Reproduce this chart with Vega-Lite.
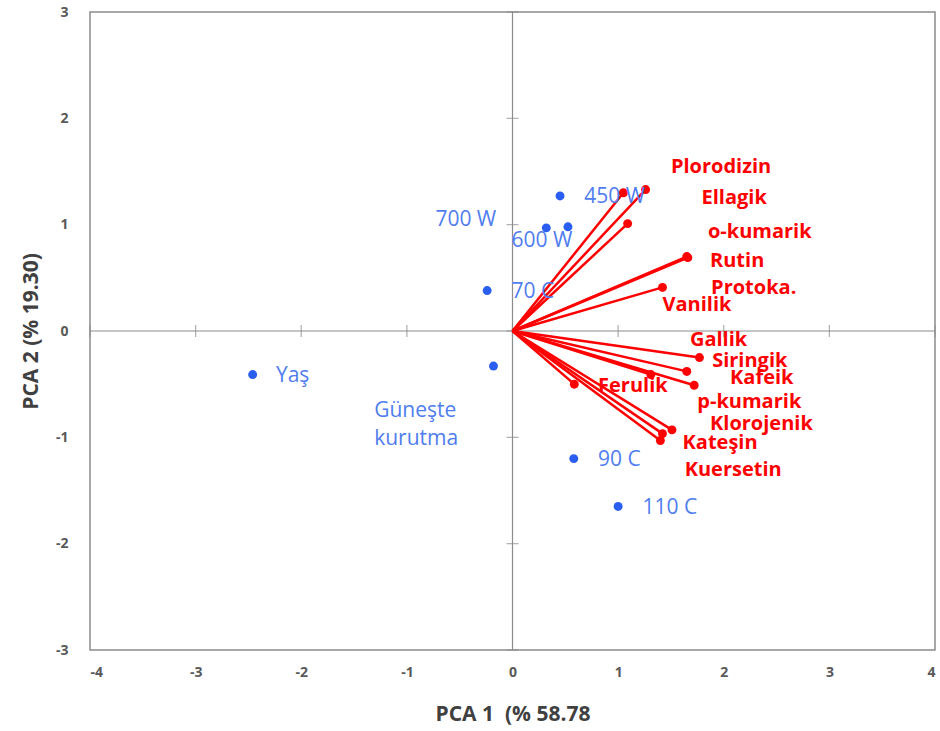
{
  "$schema": "https://vega.github.io/schema/vega-lite/v6.json",
  "width": 845,
  "height": 638,
  "autosize": {"type": "none"},
  "padding": {"left": 90, "top": 12, "right": 5, "bottom": 81},
  "background": "white",
  "config": {
    "view": {"stroke": "#8c8c8c", "strokeWidth": 1.5},
    "font": "Open Sans",
    "axis": {"grid": false, "ticks": false, "domain": false, "labelColor": "#595959", "labelFontSize": 14, "labelFontWeight": "bold", "labelFont": "Open Sans", "titleFont": "Open Sans", "titleFontSize": 21, "titleFontWeight": "bold", "titleColor": "#404040", "labelExpr": "'' + datum.value"},
    "axisX": {"labelPadding": 15, "titlePadding": 24},
    "axisY": {"labelPadding": 22, "titlePadding": 14}
  },
  "datasets": {
    "compounds": [
      {"name": "Plorodizin", "pc1": 1.26, "pc2": 1.33, "lx": 1.50, "ly": 1.54},
      {"name": "Ellagik", "pc1": 1.05, "pc2": 1.30, "lx": 1.79, "ly": 1.25},
      {"name": "o-kumarik", "pc1": 1.09, "pc2": 1.01, "lx": 1.85, "ly": 0.93},
      {"name": "Rutin", "pc1": 1.65, "pc2": 0.70, "lx": 1.87, "ly": 0.66},
      {"name": "Protoka.", "pc1": 1.66, "pc2": 0.69, "lx": 1.88, "ly": 0.40},
      {"name": "Vanilik", "pc1": 1.42, "pc2": 0.41, "lx": 1.42, "ly": 0.245},
      {"name": "Gallik", "pc1": 1.77, "pc2": -0.25, "lx": 1.68, "ly": -0.085},
      {"name": "Siringik", "pc1": 1.65, "pc2": -0.38, "lx": 1.89, "ly": -0.28},
      {"name": "Kafeik", "pc1": 1.72, "pc2": -0.51, "lx": 2.06, "ly": -0.44},
      {"name": "p-kumarik", "pc1": 1.31, "pc2": -0.41, "lx": 1.75, "ly": -0.67},
      {"name": "Klorojenik", "pc1": 1.51, "pc2": -0.93, "lx": 1.87, "ly": -0.87},
      {"name": "Kateşin", "pc1": 1.42, "pc2": -0.965, "lx": 1.61, "ly": -1.05},
      {"name": "Kuersetin", "pc1": 1.40, "pc2": -1.03, "lx": 1.63, "ly": -1.31},
      {"name": "Ferulik", "pc1": 0.585, "pc2": -0.50, "lx": 0.81, "ly": -0.52}
    ],
    "samples": [
      {"name": "450 W", "pc1": 0.45, "pc2": 1.27, "lx": 0.68, "ly": 1.26},
      {"name": "700 W", "pc1": 0.32, "pc2": 0.97, "lx": -0.73, "ly": 1.04},
      {"name": "600 W", "pc1": 0.525, "pc2": 0.98, "lx": -0.01, "ly": 0.85},
      {"name": "70 C", "pc1": -0.24, "pc2": 0.38, "lx": -0.01, "ly": 0.37},
      {"name": "Yaş", "pc1": -2.46, "pc2": -0.41, "lx": -2.24, "ly": -0.42},
      {"name": "Güneşte\nkurutma", "pc1": -0.18, "pc2": -0.33, "lx": -1.31, "ly": -0.755},
      {"name": "90 C", "pc1": 0.58, "pc2": -1.20, "lx": 0.81, "ly": -1.21},
      {"name": "110 C", "pc1": 1.00, "pc2": -1.65, "lx": 1.23, "ly": -1.66}
    ],
    "origin": [{"o": 0}],
    "xticks": [{"t": -4}, {"t": -3}, {"t": -2}, {"t": -1}, {"t": 0}, {"t": 1}, {"t": 2}, {"t": 3}, {"t": 4}],
    "yticks": [{"t": -3}, {"t": -2}, {"t": -1}, {"t": 0}, {"t": 1}, {"t": 2}, {"t": 3}]
  },
  "layer": [
    {
      "data": {"name": "origin"},
      "mark": {"type": "rule", "color": "#8c8c8c", "strokeWidth": 1.2},
      "encoding": {"x": {"field": "o", "type": "quantitative", "scale": {"domain": [-4, 4], "nice": false, "zero": false}, "axis": {"values": [-4, -3, -2, -1, 0, 1, 2, 3, 4]}, "title": "PCA 1\u00a0 (% 58.78"}}
    },
    {
      "data": {"name": "origin"},
      "mark": {"type": "rule", "color": "#8c8c8c", "strokeWidth": 1.2},
      "encoding": {"y": {"field": "o", "type": "quantitative", "scale": {"domain": [-3, 3], "nice": false, "zero": false}, "axis": {"values": [-3, -2, -1, 0, 1, 2, 3]}, "title": "PCA 2  (% 19.30)"}}
    },
    {
      "data": {"name": "yticks"},
      "mark": {"type": "tick", "orient": "horizontal", "color": "#8c8c8c", "size": 12, "thickness": 1.2},
      "encoding": {
        "x": {"datum": 0, "type": "quantitative", "scale": {"domain": [-4, 4], "nice": false, "zero": false}, "title": "PCA 1\u00a0 (% 58.78"},
        "y": {"field": "t", "type": "quantitative", "scale": {"domain": [-3, 3], "nice": false, "zero": false}, "title": "PCA 2  (% 19.30)"}
      }
    },
    {
      "data": {"name": "xticks"},
      "mark": {"type": "tick", "orient": "vertical", "color": "#8c8c8c", "size": 12, "thickness": 1.2},
      "encoding": {
        "x": {"field": "t", "type": "quantitative", "scale": {"domain": [-4, 4], "nice": false, "zero": false}, "title": "PCA 1\u00a0 (% 58.78"},
        "y": {"datum": 0, "type": "quantitative", "scale": {"domain": [-3, 3], "nice": false, "zero": false}, "title": "PCA 2  (% 19.30)"}
      }
    },
    {
      "data": {"name": "compounds"},
      "mark": {"type": "rule", "color": "#ff0000", "strokeWidth": 2.5},
      "encoding": {
        "x": {"field": "pc1", "type": "quantitative", "scale": {"domain": [-4, 4], "nice": false, "zero": false}, "title": "PCA 1\u00a0 (% 58.78"},
        "y": {"field": "pc2", "type": "quantitative", "scale": {"domain": [-3, 3], "nice": false, "zero": false}, "title": "PCA 2  (% 19.30)"},
        "x2": {"datum": 0},
        "y2": {"datum": 0}
      }
    },
    {
      "data": {"name": "compounds"},
      "mark": {"type": "circle", "color": "#ff0000", "size": 80, "opacity": 1},
      "encoding": {
        "x": {"field": "pc1", "type": "quantitative", "title": "PCA 1\u00a0 (% 58.78"},
        "y": {"field": "pc2", "type": "quantitative", "title": "PCA 2  (% 19.30)"}
      }
    },
    {
      "data": {"name": "compounds"},
      "mark": {"type": "text", "color": "#ff0000", "fontSize": 20, "fontWeight": "bold", "font": "Open Sans", "align": "left", "baseline": "middle"},
      "encoding": {
        "x": {"field": "lx", "type": "quantitative", "title": "PCA 1\u00a0 (% 58.78"},
        "y": {"field": "ly", "type": "quantitative", "title": "PCA 2  (% 19.30)"},
        "text": {"field": "name"}
      }
    },
    {
      "data": {"name": "samples"},
      "mark": {"type": "circle", "color": "#2a5ef0", "size": 80, "opacity": 1},
      "encoding": {
        "x": {"field": "pc1", "type": "quantitative", "title": "PCA 1\u00a0 (% 58.78"},
        "y": {"field": "pc2", "type": "quantitative", "title": "PCA 2  (% 19.30)"}
      }
    },
    {
      "data": {"name": "samples"},
      "mark": {"type": "text", "color": "#4f7df0", "fontSize": 21, "font": "Open Sans", "align": "left", "baseline": "middle", "lineBreak": "\n", "lineHeight": 28},
      "encoding": {
        "x": {"field": "lx", "type": "quantitative", "title": "PCA 1\u00a0 (% 58.78"},
        "y": {"field": "ly", "type": "quantitative", "title": "PCA 2  (% 19.30)"},
        "text": {"field": "name"}
      }
    }
  ]
}
